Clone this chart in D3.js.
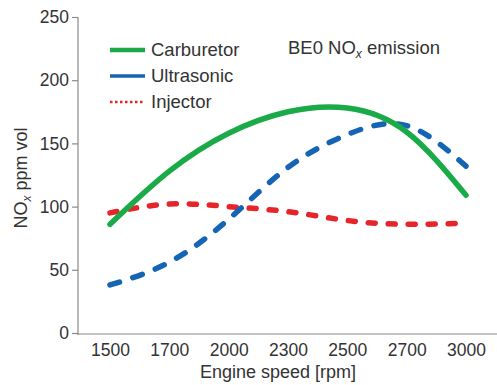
<!DOCTYPE html>
<html>
<head>
<meta charset="utf-8">
<script src="https://cdn.jsdelivr.net/npm/d3@7"></script>
<style>
  body { margin: 0; background: #fff; }
  svg { display: block; font-family: "Liberation Sans", Arial, sans-serif; }
  .axis path, .axis line { stroke: #8a8a8a; stroke-width: 1.2; }
  .axis text { fill: #333; font-size: 17.5px; }
</style>
</head>
<body>
<svg id="chart" width="497" height="385"></svg>
<script>
// engine speed categories (equally spaced in the figure)
var rpm = ["1500", "1700", "2000", "2300", "2500", "2700", "3000"];
// NOx ppm vol
var carburetor = [86, 128, 158, 175, 178, 159, 109];
var ultrasonic = [38, 56, 90, 131, 157, 164, 132];
var injector = [95, 102, 100, 96, 89, 86, 87];
var yTicks = [0, 50, 100, 150, 200, 250];

var series = [
  {name: "Carburetor", values: carburetor, color: "#1aab48", dash: null, legendWidth: 4.5},
  {name: "Ultrasonic", values: ultrasonic, color: "#1565b5", dash: "10,14", legendWidth: 3.5},
  {name: "Injector", values: injector, color: "#e6252b", dash: "7,13", legendWidth: 2.5}
];

var svg = d3.select("#chart"),
    x = d3.scalePoint().domain(rpm).range([110, 466]),
    y = d3.scaleLinear().domain([0, 250]).range([333, 17]);

// y axis
svg.append("g")
    .attr("class", "axis")
    .attr("transform", "translate(78,0)")
    .call(d3.axisLeft(y).tickValues(yTicks).tickSize(6).tickPadding(3))
    .call(function(g) { g.select(".domain").attr("d", "M0,17V335"); });

// x axis, no tick marks
svg.append("g")
    .attr("class", "axis")
    .attr("transform", "translate(0,334)")
    .call(d3.axisBottom(x).tickSize(0).tickPadding(10))
    .call(function(g) { g.select(".domain").attr("d", "M78,0H497"); });

// axis titles
svg.append("text")
    .attr("x", 278).attr("y", 378)
    .attr("text-anchor", "middle")
    .attr("font-size", 18).attr("fill", "#333")
    .text("Engine speed [rpm]");

var yl = svg.append("text")
    .attr("transform", "translate(27,178) rotate(-90)")
    .attr("text-anchor", "middle")
    .attr("font-size", 18).attr("fill", "#333");
yl.append("tspan").text("NO");
yl.append("tspan").attr("font-size", 12).attr("font-style", "italic").attr("dy", 4).text("x");
yl.append("tspan").attr("dy", -4).text(" ppm vol");

// title inside plot
var t = svg.append("text")
    .attr("x", 288).attr("y", 54)
    .attr("font-size", 18.5).attr("fill", "#333");
t.append("tspan").text("BE0 NO");
t.append("tspan").attr("font-size", 12).attr("font-style", "italic").attr("dy", 4).text("x");
t.append("tspan").attr("dy", -4).text(" emission");

// curves
var line = d3.line()
    .x(function(d, i) { return x(rpm[i]); })
    .y(function(d) { return y(d); })
    .curve(d3.curveNatural);

svg.append("g")
    .selectAll("path")
    .data(series.slice().reverse())
    .enter().append("path")
      .attr("d", function(d) { return line(d.values); })
      .attr("fill", "none")
      .attr("stroke", function(d) { return d.color; })
      .attr("stroke-width", 5.5)
      .attr("stroke-linecap", "round")
      .attr("stroke-dasharray", function(d) { return d.dash; });

// legend
var legend = svg.append("g")
    .selectAll("g")
    .data(series)
    .enter().append("g")
      .attr("transform", function(d, i) { return "translate(0," + (50 + i * 26) + ")"; });

legend.append("line")
    .attr("x1", 110).attr("x2", 145)
    .attr("stroke", function(d) { return d.color; })
    .attr("stroke-width", function(d) { return d.legendWidth; })
    .attr("stroke-dasharray", function(d, i) { return i == 2 ? "2.5,2.5" : null; });

legend.append("text")
    .attr("x", 151).attr("y", 0)
    .attr("dy", "0.35em")
    .attr("font-size", 18.5).attr("fill", "#333")
    .text(function(d) { return d.name; });
</script>
</body>
</html>
